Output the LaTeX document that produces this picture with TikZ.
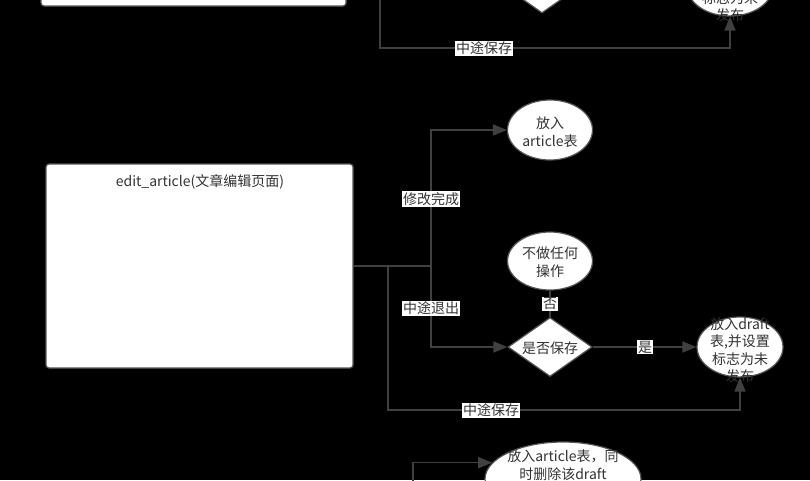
\documentclass[tikz,border=0pt]{standalone}
\usepackage{fontspec}
\setmainfont{Noto Sans CJK SC}
\usetikzlibrary{shapes.geometric,arrows.meta}
\definecolor{edgec}{RGB}{64,64,64}
\definecolor{txtc}{RGB}{51,51,51}
\definecolor{bordc}{RGB}{85,85,85}
\begin{document}
\begin{tikzpicture}[x=1pt,y=-1pt,
  every node/.style={font=\fontsize{14}{17.5}\selectfont, text=txtc},
  shapebox/.style={draw=bordc, line width=1.2pt, fill=white, inner sep=0pt},
  ell/.style={shapebox, ellipse},
  dia/.style={shapebox, diamond},
  txt/.style={align=center, inner sep=0pt},
  conn/.style={draw=edgec, line width=1.6pt},
  arr/.style={conn, -{Triangle[length=14pt,width=11pt]}},
  lab/.style={fill=white, inner sep=1pt}
]
\fill[black] (0,0) rectangle (810,480);
\useasboundingbox (0,0) rectangle (810,480);
\clip (0,0) rectangle (810,480);

% ---- top (partly visible) ----
\node[shapebox, rounded corners=3pt, minimum width=305pt, minimum height=204pt] (topedit) at (193.5,-96) {};
\node[dia, minimum width=84pt, minimum height=59pt] (topdia) at (542,-16.5) {};
\node[ell, minimum width=86pt, minimum height=60pt] (topdraft) at (730,-14) {};
\node[txt] (topdraftT) at (730,-11) {放入draft\\表,并设置\\标志为未\\发布};
\coordinate (t0) at (380,-30);
\coordinate (tk) at (380,48);
\draw[arr] (t0) -- (tk) -| (topdraft);
\node[lab] (l6) at (484,48) {中途保存};

% ---- main ----
\node[shapebox, rounded corners=3pt, minimum width=307pt, minimum height=204pt] (edit) at (199.5,266) {};
\node[txt] (editT) at (200,182) {edit\_article(文章编辑页面)};

\node[ell, minimum width=85pt, minimum height=60pt] (art) at (550,130) {};
\node[txt] (artT) at (550,132) {放入\\article表};

\node[ell, minimum width=85pt, minimum height=58pt] (noop) at (550,261) {};
\node[txt] (noopT) at (550,262) {不做任何\\操作};

\node[dia, minimum width=84pt, minimum height=59pt] (dia) at (550,347) {};
\node[txt] (diaT) at (550,348) {是否保存};

\node[ell, minimum width=86pt, minimum height=60pt] (draft) at (740,347) {};
\node[txt] (draftT) at (740,350) {放入draft\\表,并设置\\标志为未\\发布};

\node[ell, minimum width=156pt, minimum height=74pt] (bot) at (563,479) {};
\node[txt] (botT) at (563,465) {放入article表，同\\时删除该draft};

\coordinate (j1) at (431,266);
\coordinate (j2) at (388,266);
\coordinate (k) at (388,410);
\coordinate (b0) at (413,500);

\draw[conn] (edit.east) -- (j1);
\draw[arr] (j1) |- (art);
\draw[arr] (j1) |- (dia);
\draw[arr] (j2) -- (k) -| (draft);
\draw[conn] (dia) -- (noop);
\draw[arr] (dia) -- (draft);
\draw[arr] (b0) |- (bot.167);

\node[lab] (l1) at (431,199) {修改完成};
\node[lab] (l2) at (431,308) {中途退出};
\node[lab] (l3) at (491,410) {中途保存};
\node[lab] (l4) at (550,304) {否};
\node[lab] (l5) at (645,347) {是};
\end{tikzpicture}
\end{document}
